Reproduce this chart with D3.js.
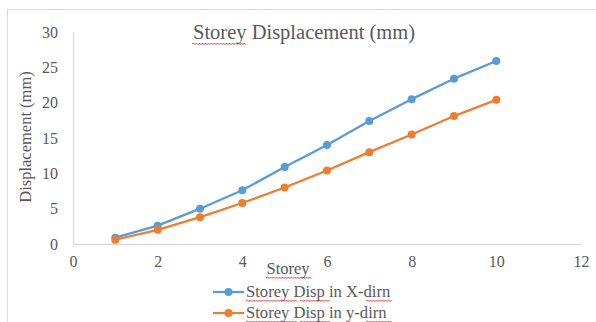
<!DOCTYPE html>
<html>
<head>
<meta charset="utf-8">
<script src="https://cdn.jsdelivr.net/npm/d3@7"></script>
<style>
  html, body { margin: 0; padding: 0; background: #fff; }
  svg { display: block; }
  text { font-family: "Liberation Serif", "Times New Roman", serif; }
</style>
</head>
<body>
<svg id="chart" width="596" height="322"></svg>
<script>
// Storey numbers and lateral displacement (mm) in both directions
const storeys = [1, 2, 3, 4, 5, 6, 7, 8, 9, 10];
const dispX = [0.9, 2.6, 5.0, 7.6, 10.9, 14.0, 17.4, 20.5, 23.4, 25.9];
const dispY = [0.6, 2.0, 3.8, 5.8, 8.0, 10.4, 13.0, 15.5, 18.1, 20.4];
const xTicks = [0, 2, 4, 6, 8, 10, 12];
const yTicks = [0, 5, 10, 15, 20, 25, 30];
const seriesNames = ["Storey Disp in X-dirn", "Storey Disp in y-dirn"];
const seriesColors = ["#5B9BD5", "#ED7D31"];

const svg = d3.select("#chart");

// chart area frame
svg.append("rect")
  .attr("x", 7.5).attr("y", 9.5)
  .attr("width", 700).attr("height", 400)
  .attr("fill", "#fff").attr("stroke", "#d9d9d9").attr("stroke-width", 1);

const plot = { left: 73, right: 581, top: 32, bottom: 244 };

const x = d3.scaleLinear().domain([0, 12]).range([plot.left, plot.right]);
const y = d3.scaleLinear().domain([0, 30]).range([plot.bottom, plot.top]);

// axes
const xAxis = d3.axisBottom(x).tickValues(xTicks).tickSize(0).tickPadding(12);
const yAxis = d3.axisLeft(y).tickValues(yTicks).tickSize(0).tickPadding(15);

const gx = svg.append("g").attr("transform", `translate(0,${plot.bottom})`).call(xAxis);
const gy = svg.append("g").attr("transform", `translate(${plot.left},0)`).call(yAxis);

[gx, gy].forEach(g => {
  g.select(".domain").attr("stroke", "#d9d9d9").attr("stroke-width", 1.3);
  g.selectAll("text")
    .attr("fill", "#595959")
    .style("font-family", "'Liberation Serif', 'Times New Roman', serif")
    .style("font-size", "16px");
});
gy.select(".domain").attr("d", `M0.5,${plot.top}V${plot.bottom}`);

// red spell-check squiggle under a word
function squiggle(x0, x1, yy) {
  let d = `M${x0},${yy}`;
  let up = true;
  for (let xx = x0 + 1.5; xx <= x1; xx += 1.5) {
    d += `L${xx},${yy + (up ? -1 : 0.5)}`;
    up = !up;
  }
  svg.append("path").attr("d", d).attr("fill", "none")
    .attr("stroke", "#e0302a").attr("stroke-width", 0.9);
}

// title
svg.append("text")
  .attr("x", 304).attr("y", 39)
  .attr("text-anchor", "middle")
  .attr("fill", "#595959")
  .style("font-size", "20.5px")
  .text("Storey Displacement (mm)");
squiggle(192, 246, 44);

// axis titles
svg.append("text")
  .attr("transform", "translate(31,137) rotate(-90)")
  .attr("text-anchor", "middle")
  .attr("fill", "#595959")
  .style("font-size", "16.5px")
  .text("Displacement (mm)");

svg.append("text")
  .attr("x", 288).attr("y", 274)
  .attr("text-anchor", "middle")
  .attr("fill", "#595959")
  .style("font-size", "16.5px")
  .text("Storey");
squiggle(266, 311, 278);

// series
const series = [dispX, dispY].map((vals, i) => ({
  name: seriesNames[i],
  color: seriesColors[i],
  points: storeys.map((s, j) => ({ s, v: vals[j] }))
}));

const line = d3.line().x(d => x(d.s)).y(d => y(d.v));

series.forEach(sr => {
  const g = svg.append("g");
  g.append("path")
    .datum(sr.points)
    .attr("d", line)
    .attr("fill", "none")
    .attr("stroke", sr.color)
    .attr("stroke-width", 2.25)
    .attr("stroke-linejoin", "round");
  g.selectAll("circle")
    .data(sr.points)
    .join("circle")
    .attr("cx", d => x(d.s))
    .attr("cy", d => y(d.v))
    .attr("r", 4)
    .attr("fill", sr.color);
});

// legend
const legend = svg.append("g");
series.forEach((sr, i) => {
  const ly = 292 + i * 21;
  legend.append("line")
    .attr("x1", 213).attr("x2", 244)
    .attr("y1", ly).attr("y2", ly)
    .attr("stroke", sr.color).attr("stroke-width", 2.25);
  legend.append("circle")
    .attr("cx", 228.5).attr("cy", ly).attr("r", 4)
    .attr("fill", sr.color);
  legend.append("text")
    .attr("x", 246).attr("y", ly + 5)
    .attr("fill", "#595959")
    .style("font-size", "16.6px")
    .text(sr.name);
  squiggle(246, 297, ly + 9);
  squiggle(300, 331, ly + 9);
  squiggle(366, 392, ly + 9);
});
</script>
</body>
</html>
